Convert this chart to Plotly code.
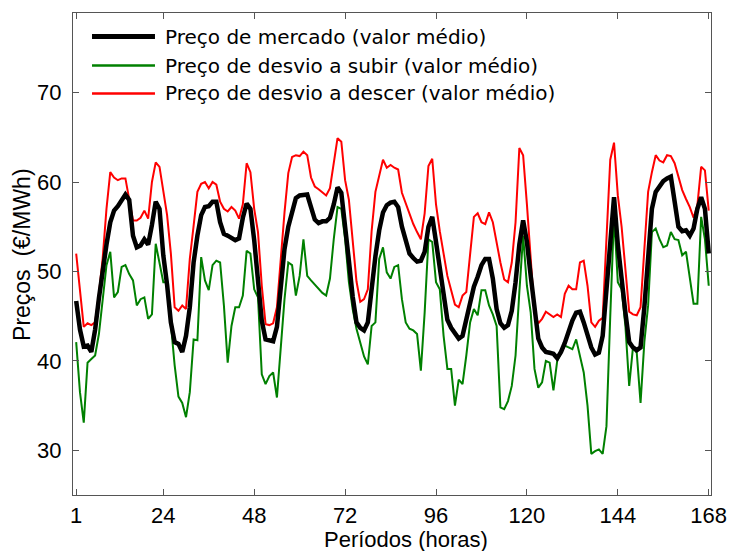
import plotly.graph_objects as go

hours = list(range(1, 169))

preco_mercado = [
    46.7, 43.5, 41.6, 41.7, 41.0, 43.5, 47.0, 50.5, 53.0, 55.5, 56.8, 57.3, 58.0, 58.6, 58.0, 54.0, 52.7, 52.9, 53.6, 53.0,
    55.2, 57.8, 57.0, 51.8, 48.5, 44.3, 42.1, 41.9,
    41.0, 42.8, 46.0, 51.0, 54.0, 56.3, 57.2, 57.3, 57.8, 57.8, 55.5, 54.2, 54.0, 53.8, 53.5, 53.7, 56.0, 57.6, 57.0, 53.5,
    49.0, 44.5, 42.4, 42.3, 42.2, 43.8, 48.0, 52.5, 55.0,
    56.8, 58.2, 58.5, 58.6, 58.6, 57.2, 55.8, 55.4, 55.6, 55.6, 56.0, 57.5, 59.4, 58.8, 55.3, 51.2, 47.2, 44.3, 43.7, 43.4,
    44.3, 48.4, 51.7, 54.6, 56.6, 57.4, 57.7, 57.8, 57.2,
    55.0, 53.3, 52.0, 51.5, 51.1, 51.2, 52.2, 55.0, 56.1, 53.3, 50.6, 48.0, 44.6, 43.7, 43.0, 42.5, 42.8, 44.8, 46.7, 48.3,
    49.4, 50.7, 51.4, 51.4, 49.2, 45.8, 44.2, 43.7,
    44.0, 45.6, 48.8, 53.0, 55.7, 53.3, 49.5, 45.4, 42.5, 41.5, 41.0, 40.9, 40.8, 40.3, 41.0, 42.0, 43.3, 44.5, 45.4, 45.5,
    44.3, 42.7, 41.5, 40.7, 40.9, 42.8, 48.0, 54.2, 58.3,
    53.0, 48.8, 45.4, 42.1, 41.5, 41.2, 41.5, 46.0, 51.5, 57.0, 58.9, 59.6, 60.1, 60.4, 60.6, 57.8, 55.0, 54.5, 54.6, 54.0,
    54.8, 57.0, 58.3, 57.0, 52.0,
]

desvio_subir = [
    42.1, 36.5, 33.1, 39.8, 40.2, 40.6, 43.0, 46.6, 50.7, 52.2, 47.1, 47.7, 50.5, 50.7, 49.7, 49.0, 46.2, 46.9, 47.1, 44.7,
    45.2, 53.1, 51.0, 48.8, 48.8, 44.3, 39.5, 36.0,
    35.3, 33.7, 36.5, 42.4, 42.3, 51.6, 49.0, 47.9, 50.7, 51.2, 51.0, 46.2, 39.8, 43.9, 46.0, 46.0, 47.3, 52.3, 52.0, 48.0,
    47.1, 38.5, 37.4, 38.3, 38.7, 35.9, 41.7, 46.9,
    51.0, 50.7, 47.3, 49.5, 53.6, 49.5, 49.0, 48.5, 48.0, 47.6, 47.3, 49.2, 53.6, 57.2, 57.0, 53.6, 48.8, 45.8, 43.6, 42.0,
    40.5, 39.6, 43.9, 44.3, 51.4, 52.7, 49.9, 49.2, 50.5, 50.7,
    46.9, 44.3, 43.6, 43.4, 43.0, 38.9, 45.4, 53.6, 53.3, 48.8, 48.0, 42.8, 39.1, 39.1, 35.0, 37.9, 37.4, 40.6, 44.3, 45.8,
    45.1, 47.9, 47.9, 46.2, 45.2, 43.9, 34.8, 34.6,
    35.5, 37.2, 40.6, 47.7, 54.0, 48.4, 45.4, 39.1, 37.0, 37.6, 40.0, 39.8, 36.7, 40.0, 40.9, 41.7, 41.5, 41.3, 42.4, 40.5,
    38.7, 35.0, 29.6, 29.9, 30.1, 29.6, 32.7, 45.0, 56.3,
    48.8, 48.0, 43.9, 37.2, 41.5, 40.9, 35.3, 42.1, 46.2, 54.4, 54.8, 53.6, 52.7, 52.9, 54.4, 53.6, 53.5, 51.8, 52.2, 49.4,
    46.4, 46.4, 56.1, 53.6, 48.4,
]

desvio_descer = [
    52.0, 47.5, 43.8, 44.2, 44.0, 44.3, 47.5, 51.5, 57.0, 61.1, 60.5, 60.2, 60.4, 60.4, 58.0, 55.7, 55.7, 56.0, 56.8, 55.9,
    60.0, 62.2, 61.7, 58.9, 56.3, 52.0, 46.0, 45.6,
    46.2, 45.8, 51.4, 55.1, 58.9, 59.8, 60.0, 59.3, 60.0, 59.7, 57.8, 57.0, 56.7, 57.2, 56.8, 55.9, 57.5, 62.1, 61.1, 57.0,
    54.4, 48.4, 44.1, 44.0, 44.2, 46.0, 51.4, 56.6, 61.0,
    62.8, 63.0, 62.9, 63.4, 63.0, 60.5, 59.5, 59.2, 58.8, 58.5, 59.3, 62.3, 64.9, 64.5, 60.2, 58.0, 53.5, 48.9, 46.6, 46.9,
    48.0, 54.5, 58.9, 60.9, 62.5, 61.6, 61.9, 61.6, 61.4,
    58.8, 57.6, 56.4, 55.3, 54.4, 53.6, 56.5, 61.8, 62.6, 57.5, 54.5, 52.2, 49.5, 47.9, 46.3, 46.0, 47.3, 47.7, 52.0, 56.1,
    56.5, 55.5, 55.3, 56.6, 55.5, 53.0, 51.0, 49.1,
    48.8, 51.0, 55.5, 63.8, 63.0, 57.5, 51.4, 45.4, 44.2, 44.7, 45.5, 45.2, 44.9, 45.2, 44.9, 47.5, 48.4, 48.0, 48.0, 51.0,
    51.2, 48.4, 44.3, 43.8, 44.5, 44.8, 54.4, 62.5, 64.4,
    58.5, 55.0, 50.5, 45.5, 45.2, 45.1, 46.0, 52.2, 58.9, 61.1, 63.0, 62.4, 62.2, 63.0, 62.9, 62.1, 60.6, 59.1, 58.1, 57.2,
    56.0, 57.4, 61.7, 61.3, 56.8,
]

x_ticks = [1, 24, 48, 72, 96, 120, 144, 168]
y_ticks = [30, 40, 50, 60, 70]

series_names = [
    "Preço de mercado (valor médio)",
    "Preço de desvio a subir (valor médio)",
    "Preço de desvio a descer (valor médio)",
]
series_colors = ["#000000", "#008000", "#ff0000"]
series_widths = [4.5, 2, 2]

fig = go.Figure()
for idx in [1, 2, 0]:
    vals = [preco_mercado, desvio_subir, desvio_descer][idx]
    fig.add_trace(go.Scatter(x=hours, y=vals, mode="lines", name=series_names[idx],
                             line=dict(color=series_colors[idx], width=series_widths[idx]),
                             showlegend=False))

axis_font = dict(family="Liberation Sans, Arial, sans-serif", size=22, color="#000")

fig.update_layout(
    width=729, height=551,
    margin=dict(l=73, r=18, t=13, b=56, autoexpand=False),
    paper_bgcolor="white", plot_bgcolor="white",
    showlegend=False,
    xaxis=dict(range=[0.16, 168.6], tickvals=x_ticks, ticktext=[str(t) for t in x_ticks],
               showline=True, mirror="ticks", linecolor="#555", linewidth=1.2,
               ticks="inside", ticklen=6, tickcolor="#555", tickwidth=1,
               showgrid=False, zeroline=False, tickfont=axis_font, automargin=False),
    yaxis=dict(range=[25, 78.9], tickvals=y_ticks,
               showline=True, mirror="ticks", linecolor="#555", linewidth=1.2,
               ticks="inside", ticklen=6, tickcolor="#555", tickwidth=1,
               showgrid=False, zeroline=False, tickfont=axis_font, automargin=False,
               ticklabelstandoff=6),
)

# axis titles
fig.add_annotation(text="Períodos (horas)", xref="paper", yref="paper", x=0.522, y=-0.092,
                   xanchor="center", yanchor="middle", showarrow=False,
                   font=dict(family="Liberation Sans, Arial, sans-serif", size=22, color="#000"))
fig.add_annotation(text="Preços  (€/MWh)", xref="paper", yref="paper", x=-0.08, y=0.5,
                   xanchor="center", yanchor="middle", textangle=-90, showarrow=False,
                   font=dict(family="Liberation Sans, Arial, sans-serif", size=23, color="#000"))

# legend (drawn manually to match the long sample lines)
leg_rows = [0.951, 0.891, 0.833]
for name, col, w, yr in zip(series_names, series_colors, series_widths, leg_rows):
    fig.add_shape(type="line", xref="paper", yref="paper", x0=0.0298, x1=0.1285, y0=yr, y1=yr,
                  line=dict(color=col, width=w + 0.5))
    fig.add_annotation(text=name, xref="paper", yref="paper", x=0.141, y=yr, xanchor="left",
                       yanchor="middle", showarrow=False,
                       font=dict(family="DejaVu Sans, sans-serif", size=20, color="#000"))

fig.write_html("out.html")
